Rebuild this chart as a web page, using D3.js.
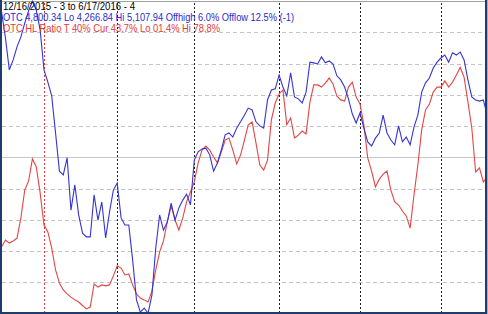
<!DOCTYPE html>
<html><head><meta charset="utf-8">
<script src="https://cdn.jsdelivr.net/npm/d3@7/dist/d3.min.js"></script>
<style>html,body{margin:0;padding:0;background:#fff;overflow:hidden}svg{display:block}</style>
</head><body><div id="chart"></div>
<script>
const dates = [
"12/16/2015","12/17/2015","12/18/2015","12/21/2015","12/22/2015","12/23/2015","12/24/2015","12/28/2015","12/29/2015","12/30/2015","12/31/2015",
"1/4/2016","1/5/2016","1/6/2016","1/7/2016","1/8/2016","1/11/2016","1/12/2016","1/13/2016","1/14/2016","1/15/2016","1/19/2016","1/20/2016","1/21/2016","1/22/2016","1/25/2016","1/26/2016","1/27/2016","1/28/2016","1/29/2016",
"2/1/2016","2/2/2016","2/3/2016","2/4/2016","2/5/2016","2/8/2016","2/9/2016","2/10/2016","2/11/2016","2/12/2016","2/16/2016","2/17/2016","2/18/2016","2/19/2016","2/22/2016","2/23/2016","2/24/2016","2/25/2016","2/26/2016","2/29/2016",
"3/1/2016","3/2/2016","3/3/2016","3/4/2016","3/7/2016","3/8/2016","3/9/2016","3/10/2016","3/11/2016","3/14/2016","3/15/2016","3/16/2016","3/17/2016","3/18/2016","3/21/2016","3/22/2016","3/23/2016","3/24/2016","3/28/2016","3/29/2016","3/30/2016","3/31/2016",
"4/1/2016","4/4/2016","4/5/2016","4/6/2016","4/7/2016","4/8/2016","4/11/2016","4/12/2016","4/13/2016","4/14/2016","4/15/2016","4/18/2016","4/19/2016","4/20/2016","4/21/2016","4/22/2016","4/25/2016","4/26/2016","4/27/2016","4/28/2016","4/29/2016",
"5/2/2016","5/3/2016","5/4/2016","5/5/2016","5/6/2016","5/9/2016","5/10/2016","5/11/2016","5/12/2016","5/13/2016","5/16/2016","5/17/2016","5/18/2016","5/19/2016","5/20/2016","5/23/2016","5/24/2016","5/25/2016","5/26/2016","5/27/2016","5/31/2016",
"6/1/2016","6/2/2016","6/3/2016","6/6/2016","6/7/2016","6/8/2016","6/9/2016","6/10/2016","6/13/2016","6/14/2016","6/15/2016","6/16/2016","6/17/2016"];

const otcClose = [
5079,5009,4923,4950,4985,5012,5049,5082,5107.94,5084,5031,
4923,4890,4853,4753,4650,4640,4686,4545,4613,4532,4483,4473,4473,4586,4518,4567,4470,4540,4599,
4618,4524,4505,4505,4411,4303,4270,4281,4266.84,4316,4443,4532,4491,4513,4564,4518,4551,4572,4588,4559,
4680,4702,4710,4712,4694,4650,4672,4707,4748,4753,4742,4766,4783,4801,4820,4815,4783,4772,4766,4842,4869,4872,
4909,4877,4853,4915,4850,4845,4834,4863,4944,4942,4939,4958,4942,4947,4939,4907,4896,4877,4845,
4804,4780,4807,4766,4729,4718,4739,4753,4801,4753,4734,4721,4772,4729,4742,4721,4769,4801,4863,4888,4901,
4928,4944,4955,4963,4944,4969,4963,4971,4950,4896,4850,4842,4839,4842,4800.34];

const hlRatio = [
21.3,23.5,22.5,23.2,24.1,30.5,39.5,42.4,49.5,46.9,38.6,
28.3,26.1,20.9,13.9,9.7,7.5,6.2,5.2,4.3,3.6,2.5,1.4,2.0,9.4,8.4,9.1,8.8,9.1,12.0,
15.2,14.5,12.3,12.6,9.1,6.2,4.9,4.3,3.6,7.1,13.9,19.6,23.2,29.3,34.4,29.9,26.7,30.5,35.7,38.9,
42.1,48.2,52.3,53.6,52.3,50.1,48.2,51.7,55.5,56.2,52.3,47.9,50.7,55.5,60.4,61.3,54.6,47.5,45.9,49.1,62.0,67.4,
70.3,71.6,60.4,62.6,56.2,57.1,58.4,57.5,67.7,73.2,73.2,72.5,73.8,75.4,73.5,69.6,68.4,68.0,72.5,
74.1,69.3,67.1,60.4,49.8,45.6,40.5,43.0,44.6,45.6,39.5,35.7,34.7,32.8,31.2,27.3,37.9,47.5,58.8,65.2,67.1,
70.9,72.5,72.5,74.5,72.5,74.1,76.4,78.8,75.7,67.7,59.4,45.3,46.6,42.1,43.7];

const gridLevels = [10,20,30,40,50,60,70,80,90];
const otcLo = 4266.84, otcHi = 5107.94;
const headerLines = [
  {text:"12/16/2015 - 3 to 6/17/2016 - 4", color:"#000000", len:132},
  {text:"OTC 4,800.34 Lo 4,266.84 Hi 5,107.94 Offhigh 6.0% Offlow 12.5% (-1)", color:"#2a2ad0", len:291},
  {text:"OTC HL Ratio T 40% Cur 43.7% Lo 01.4% Hi 78.8%", color:"#e03a3a", len:217}
];

const W = 488, H = 314;
const svg = d3.select("#chart").append("svg").attr("width", W).attr("height", H);
svg.append("rect").attr("width", W).attr("height", H).attr("fill", "#fff");

const x = d3.scalePoint().domain(dates).range([1.6, 487.2]);
const yRed = d3.scaleLinear().domain([0, 100]).range([313.3, 1.3]);
const yBlue = d3.scaleLinear().domain([otcLo, otcHi]).range([313.3, 1.3]);

const defs = svg.append("defs");
defs.append("clipPath").attr("id", "plotclip").append("rect")
  .attr("x", 2).attr("y", 0).attr("width", 483).attr("height", 312);

const plot = svg.append("g").attr("clip-path", "url(#plotclip)");

plot.append("line").attr("x1", 2).attr("x2", 485).attr("y1", 1.5).attr("y2", 1.5)
  .attr("stroke", "#a0a0a0").attr("stroke-width", 1);

plot.selectAll("line.hg").data(gridLevels).join("line").attr("class", "hg")
  .attr("x1", 2).attr("x2", 485)
  .attr("y1", d => Math.round(yRed(d)) + 0.5).attr("y2", d => Math.round(yRed(d)) + 0.5)
  .attr("stroke", d => d === 50 ? "#c8c8c8" : "#c4c4c4")
  .attr("stroke-dasharray", d => d === 50 ? null : "4,3");

const monthStarts = dates.filter((d, i) => i > 0 && d.split("/")[0] !== dates[i - 1].split("/")[0]);
plot.selectAll("line.vg").data(monthStarts).join("line").attr("class", "vg")
  .attr("x1", d => Math.round(x(d)) + 0.5).attr("x2", d => Math.round(x(d)) + 0.5)
  .attr("y1", 3).attr("y2", 312)
  .attr("stroke", d => d.endsWith("2016") && d.startsWith("1/") ? "#e03a3a" : "#202020")
  .attr("stroke-dasharray", "2,2");

const lineRed = d3.line().x((d, i) => x(dates[i])).y(d => yRed(d));
const lineBlue = d3.line().x((d, i) => x(dates[i])).y(d => yBlue(d));

plot.append("path").datum(hlRatio).attr("d", lineRed)
  .attr("fill", "none").attr("stroke", "#e54545").attr("stroke-width", 1.1);
plot.append("path").datum(otcClose).attr("d", lineBlue)
  .attr("fill", "none").attr("stroke", "#3434d2").attr("stroke-width", 1.1);

svg.selectAll("text.hdr").data(headerLines).join("text").attr("class", "hdr")
  .attr("x", 3).attr("y", (d, i) => 10 + i * 11.2)
  .attr("fill", d => d.color)
  .attr("textLength", d => d.len)
  .attr("lengthAdjust", "spacingAndGlyphs")
  .style("font-family", "'Liberation Sans', Arial, sans-serif")
  .style("font-size", "10.5px")
  .text(d => d.text);

svg.append("rect").attr("x", 0).attr("y", 0).attr("width", 2).attr("height", H).attr("fill", "#1e3d6b");
svg.append("rect").attr("x", 0).attr("y", 312).attr("width", W).attr("height", 2).attr("fill", "#1e3d6b");
svg.append("rect").attr("x", 485).attr("y", 0).attr("width", 2).attr("height", H).attr("fill", "#1e3d6b");
svg.append("rect").attr("x", 487).attr("y", 0).attr("width", 1).attr("height", H).attr("fill", "#9ab0cc");
</script></body></html>
